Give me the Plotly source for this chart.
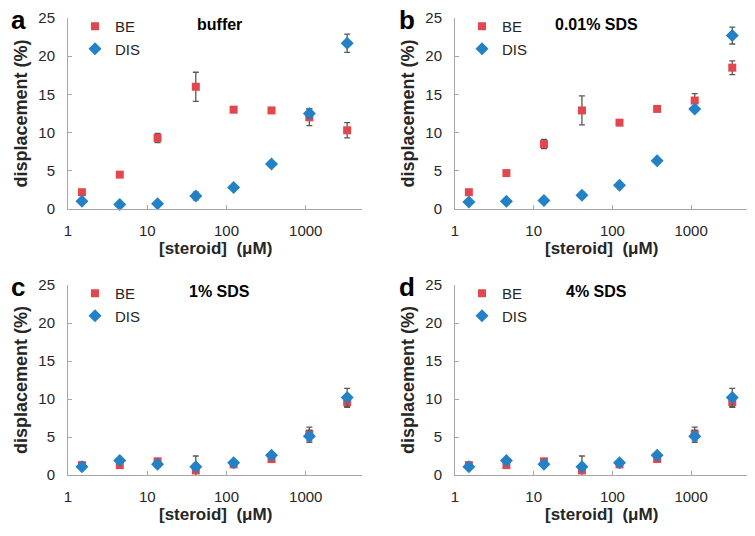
import plotly.graph_objects as go

# steroid concentration (uM), 3-fold dilution series
conc = [1.5, 4.5, 13.5, 41, 123, 370, 1111, 3333]

# panel a - buffer
a_be = [2.2, 4.5, 9.3, 16.0, 13.0, 12.9, 12.0, 10.3]
a_be_err = [0.2, 0.3, 0.6, 1.9, 0.2, 0.2, 1.1, 1.0]
a_dis = [1.0, 0.6, 0.7, 1.7, 2.8, 5.9, 12.5, 21.7]
a_dis_err = [0.2, 0.1, 0.1, 0.5, 0.2, 0.2, 0.6, 1.2]

# panel b - 0.01% SDS
b_be = [2.2, 4.7, 8.5, 12.9, 11.3, 13.1, 14.2, 18.5]
b_be_err = [0.2, 0.3, 0.6, 1.9, 0.2, 0.2, 0.9, 0.9]
b_dis = [0.9, 1.0, 1.1, 1.8, 3.1, 6.3, 13.1, 22.7]
b_dis_err = [0.1, 0.1, 0.1, 0.4, 0.2, 0.2, 0.3, 1.1]

# panel c - 1% SDS
c_be = [1.3, 1.3, 1.8, 0.6, 1.4, 2.1, 5.4, 9.6]
c_be_err = [0.2, 0.2, 0.3, 1.9, 0.2, 0.2, 0.9, 0.7]
c_dis = [1.1, 1.9, 1.4, 1.1, 1.6, 2.6, 5.1, 10.2]
c_dis_err = [0.2, 0.2, 0.4, 0.4, 0.2, 0.2, 0.8, 1.2]

# panel d - 4% SDS
d_be = [1.3, 1.3, 1.8, 0.6, 1.4, 2.1, 5.4, 9.6]
d_be_err = [0.2, 0.2, 0.3, 1.9, 0.2, 0.2, 0.9, 0.7]
d_dis = [1.1, 1.9, 1.4, 1.1, 1.6, 2.6, 5.1, 10.2]
d_dis_err = [0.2, 0.2, 0.4, 0.4, 0.2, 0.2, 0.8, 1.2]

panel_letters = ["a", "b", "c", "d"]
panel_titles = ["buffer", "0.01% SDS", "1% SDS", "4% SDS"]
xtick_vals = [1, 10, 100, 1000]
ytick_vals = [0, 5, 10, 15, 20, 25]

RED = "#E2474D"
BLUE = "#2381C6"
AXC = "#A6A6A6"
FONT = "Liberation Sans, Arial, sans-serif"
# page body has an 8px margin, so the figure is drawn 8px in from the window edge
OFF = 8
W, H = 755 - 2 * OFF, 536 - 2 * OFF


def px(x):
    return (x - OFF) / W


def py(y):
    return 1 - (y - OFF) / H


panels = [
    (a_be, a_be_err, a_dis, a_dis_err),
    (b_be, b_be_err, b_dis, b_dis_err),
    (c_be, c_be_err, c_dis, c_dis_err),
    (d_be, d_be_err, d_dis, d_dis_err),
]

# plot areas in window pixels: (left, right, top, bottom)
boxes = [(68, 362, 18, 209), (455, 747, 18, 209),
         (68, 362, 285, 475), (455, 747, 285, 475)]

fig = go.Figure()
layout = dict(width=W, height=H, margin=dict(l=0, r=0, t=0, b=0, autoexpand=False),
              paper_bgcolor="white", plot_bgcolor="white",
              font=dict(family=FONT, size=15, color="#262626"),
              annotations=[])

for i, (be, be_err, dis, dis_err) in enumerate(panels):
    n = "" if i == 0 else str(i + 1)
    L, R, T, B = boxes[i]
    lg = "legend" + n
    fig.add_trace(go.Scatter(
        x=conc, y=be, mode="markers", name="BE",
        xaxis="x" + n, yaxis="y" + n, legend=lg, cliponaxis=False,
        marker=dict(symbol="square", size=8, color=RED),
        error_y=dict(type="data", array=be_err, color="#595959",
                     thickness=1.3, width=3)))
    fig.add_trace(go.Scatter(
        x=conc, y=dis, mode="markers", name="DIS",
        xaxis="x" + n, yaxis="y" + n, legend=lg, cliponaxis=False,
        marker=dict(symbol="diamond", size=10, color=BLUE),
        error_y=dict(type="data", array=dis_err, color="#595959",
                     thickness=1.3, width=3)))

    layout["xaxis" + n] = dict(
        type="log", range=[0, 3.71], domain=[px(L), px(R)], automargin=False,
        anchor="y" + n, tickvals=xtick_vals, ticktext=[str(v) for v in xtick_vals],
        showline=True, linecolor=AXC, linewidth=1, showgrid=False, zeroline=False,
        ticks="inside", ticklen=4, tickcolor=AXC, ticklabelstandoff=8)
    layout["yaxis" + n] = dict(
        range=[0, 25], domain=[py(B), py(T)], anchor="x" + n, automargin=False,
        tickvals=ytick_vals, showline=True, linecolor=AXC, linewidth=1,
        showgrid=False, zeroline=False, ticks="inside", ticklen=4, tickcolor=AXC,
        ticklabelstandoff=9,
        title=dict(text="<b>displacement (%)</b>", font=dict(size=18), standoff=6))
    layout[lg] = dict(x=px(L + 7), y=py(T - 8), xanchor="left", yanchor="top",
                      bgcolor="rgba(0,0,0,0)", font=dict(size=15),
                      itemwidth=30, tracegroupgap=0)
    ann = layout["annotations"]
    ann.append(dict(
        text="<b>[steroid]  (μM)</b>", xref="paper", yref="paper",
        x=px((L + R) / 2), y=py(B + 39), xanchor="center", yanchor="middle",
        showarrow=False, font=dict(size=17, color="#262626")))
    ann.append(dict(
        text="<b>" + panel_letters[i] + "</b>", xref="paper", yref="paper",
        x=px(L - (50 if i % 2 == 0 else 48)), y=py(T + 2),
        xanchor="center", yanchor="middle", showarrow=False,
        font=dict(size=26, color="black")))
    ann.append(dict(
        text="<b>" + panel_titles[i] + "</b>", xref="paper", yref="paper",
        x=px(L + (151 if i % 2 == 0 else 141)), y=py(T + 6),
        xanchor="center", yanchor="middle", showarrow=False,
        font=dict(size=16, color="black")))

fig.update_layout(**layout)
fig.write_html("out.html")
